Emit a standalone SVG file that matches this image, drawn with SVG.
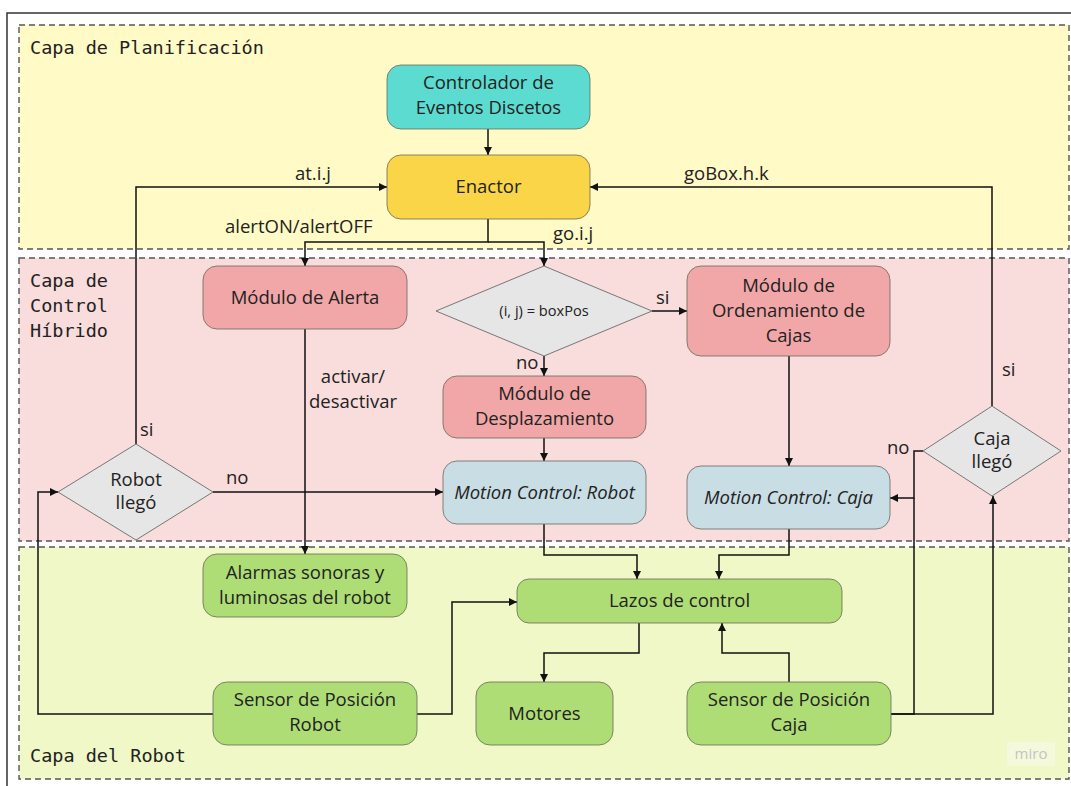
<svg xmlns="http://www.w3.org/2000/svg" width="1071" height="786" viewBox="0 0 1071 786">
  <defs>
    <marker id="arrow" viewBox="0 0 10 10" refX="10" refY="5" markerWidth="8" markerHeight="8" markerUnits="userSpaceOnUse" orient="auto">
      <path d="M0,0 L10,5 L0,10 z" fill="#111"/>
    </marker>
    <style>
      .layer { stroke: #555; stroke-width: 1.4; stroke-dasharray: 6 4; }
      .layer-label { font-family: "DejaVu Sans Mono", "Liberation Mono", monospace; font-size: 18.5px; fill: #222; }
      .node { stroke: #6a6a5a; stroke-opacity: 0.8; stroke-width: 1; }
      .teal { fill: #5cdbd0; }
      .gold { fill: #fad548; }
      .rose { fill: #f1a7a7; }
      .sky { fill: #c9dde5; }
      .lime { fill: #aedd75; }
      .decision { fill: #e6e6e6; stroke: #777; stroke-width: 1; }
      .t { font-family: "Open Sans", "Noto Sans", sans-serif; font-size: 18.5px; fill: #222; text-anchor: middle; }
      .it { font-style: italic; }
      .small { font-size: 14.6px; }
      .lbl { font-family: "Open Sans", "Noto Sans", sans-serif; font-size: 18.5px; fill: #222; }
      .wire { fill: none; stroke: #111; stroke-width: 1.5; }
    </style>
  </defs>

  <rect width="1071" height="786" fill="#ffffff"/>

  <!-- outer frame -->
  <path d="M7,786 V13 H1071" fill="none" stroke="#333" stroke-width="1.5"/>

  <!-- layers -->
  <g id="layer-planning">
    <rect class="layer" x="19" y="25" width="1050" height="224" fill="#fffac6"/>
    <text class="layer-label" x="30" y="54">Capa de Planificación</text>
  </g>
  <g id="layer-hybrid">
    <rect class="layer" x="19" y="258" width="1050" height="283" fill="#f9dcdc"/>
    <text class="layer-label" x="30" y="287">Capa de</text>
    <text class="layer-label" x="30" y="312">Control</text>
    <text class="layer-label" x="30" y="337">Híbrido</text>
  </g>
  <g id="layer-robot">
    <rect class="layer" x="19" y="547" width="1050" height="232" fill="#eff8c6"/>
    <text class="layer-label" x="30" y="762">Capa del Robot</text>
  </g>

  <!-- connectors -->
  <g id="connectors">
    <path class="wire" d="M488,129 V155" marker-end="url(#arrow)"/>
    <path class="wire" d="M488,219 V242 H305 V266" marker-end="url(#arrow)"/>
    <path class="wire" d="M488,242 H544 V266" marker-end="url(#arrow)"/>
    <path class="wire" d="M652,311 H687" marker-end="url(#arrow)"/>
    <path class="wire" d="M544,356 V376" marker-end="url(#arrow)"/>
    <path class="wire" d="M544,438 V461" marker-end="url(#arrow)"/>
    <path class="wire" d="M789,356 V466" marker-end="url(#arrow)"/>
    <path class="wire" d="M305,329 V554" marker-end="url(#arrow)"/>
    <path class="wire" d="M136,444 V187 H387" marker-end="url(#arrow)"/>
    <path class="wire" d="M213,492 H443" marker-end="url(#arrow)"/>
    <path class="wire" d="M213,714 H38 V492 H58" marker-end="url(#arrow)"/>
    <path class="wire" d="M417,714 H452 V602 H517" marker-end="url(#arrow)"/>
    <path class="wire" d="M544,524 V555 H637 V579" marker-end="url(#arrow)"/>
    <path class="wire" d="M789,529 V555 H719 V579" marker-end="url(#arrow)"/>
    <path class="wire" d="M639,623 V653 H544 V682" marker-end="url(#arrow)"/>
    <path class="wire" d="M789,682 V653 H722 V623" marker-end="url(#arrow)"/>
    <path class="wire" d="M891,714 H993 V496" marker-end="url(#arrow)"/>
    <path class="wire" d="M891,714 H914 V498"/>
    <path class="wire" d="M923,451 H914 V498 H890" marker-end="url(#arrow)"/>
    <path class="wire" d="M992,406 V187 H590" marker-end="url(#arrow)"/>

    <text class="lbl" x="295" y="180">at.i.j</text>
    <text class="lbl" x="684" y="180">goBox.h.k</text>
    <text class="lbl" x="225" y="233">alertON/alertOFF</text>
    <text class="lbl" x="553" y="240">go.i.j</text>
    <text class="lbl" x="656" y="304">si</text>
    <text class="lbl" x="516" y="369">no</text>
    <text class="lbl" x="353" y="383" text-anchor="middle">activar/</text>
    <text class="lbl" x="353" y="408" text-anchor="middle">desactivar</text>
    <text class="lbl" x="140" y="436">si</text>
    <text class="lbl" x="226" y="484">no</text>
    <text class="lbl" x="887" y="454">no</text>
    <text class="lbl" x="1002" y="376">si</text>
  </g>

  <!-- planning layer nodes -->
  <g id="controlador">
    <rect class="node teal" x="387" y="65" width="203" height="64" rx="14"/>
    <text class="t" x="488.5" y="89">Controlador de</text>
    <text class="t" x="488.5" y="114">Eventos Discetos</text>
  </g>
  <g id="enactor">
    <rect class="node gold" x="387" y="155" width="203" height="64" rx="14"/>
    <text class="t" x="488.5" y="193">Enactor</text>
  </g>

  <!-- hybrid control layer nodes -->
  <g id="modulo-alerta">
    <rect class="node rose" x="203" y="266" width="204" height="63" rx="14"/>
    <text class="t" x="305" y="303.5">Módulo de Alerta</text>
  </g>
  <g id="decision-boxpos">
    <polygon class="decision" points="544,266 652,311 544,356 436,311"/>
    <text class="t small" x="544" y="316">(i, j) = boxPos</text>
  </g>
  <g id="modulo-ordenamiento">
    <rect class="node rose" x="687" y="266" width="203" height="90" rx="14"/>
    <text class="t" x="788.5" y="292">Módulo de</text>
    <text class="t" x="788.5" y="317">Ordenamiento de</text>
    <text class="t" x="788.5" y="342">Cajas</text>
  </g>
  <g id="modulo-desplazamiento">
    <rect class="node rose" x="443" y="376" width="203" height="62" rx="14"/>
    <text class="t" x="544.5" y="399.5">Módulo de</text>
    <text class="t" x="544.5" y="424.5">Desplazamiento</text>
  </g>
  <g id="motion-robot">
    <rect class="node sky" x="443" y="461" width="203" height="63" rx="14"/>
    <text class="t it" x="544.5" y="498.5">Motion Control: Robot</text>
  </g>
  <g id="motion-caja">
    <rect class="node sky" x="687" y="466" width="203" height="63" rx="14"/>
    <text class="t it" x="788.5" y="503.5">Motion Control: Caja</text>
  </g>
  <g id="robot-llego">
    <polygon class="decision" points="136,444 213,492 136,540 58,492"/>
    <text class="t" x="136" y="486">Robot</text>
    <text class="t" x="136" y="509">llegó</text>
  </g>
  <g id="caja-llego">
    <polygon class="decision" points="992,406 1061,451 992,496 923,451"/>
    <text class="t" x="992" y="445">Caja</text>
    <text class="t" x="992" y="468">llegó</text>
  </g>

  <!-- robot layer nodes -->
  <g id="alarmas">
    <rect class="node lime" x="203" y="554" width="204" height="63" rx="14"/>
    <text class="t" x="305" y="579">Alarmas sonoras y</text>
    <text class="t" x="305" y="604">luminosas del robot</text>
  </g>
  <g id="lazos">
    <rect class="node lime" x="517" y="579" width="325" height="44" rx="12"/>
    <text class="t" x="679.5" y="607">Lazos de control</text>
  </g>
  <g id="sensor-robot">
    <rect class="node lime" x="213" y="682" width="204" height="63" rx="14"/>
    <text class="t" x="315" y="706">Sensor de Posición</text>
    <text class="t" x="315" y="731">Robot</text>
  </g>
  <g id="motores">
    <rect class="node lime" x="476" y="682" width="137" height="63" rx="14"/>
    <text class="t" x="544.5" y="719.5">Motores</text>
  </g>
  <g id="sensor-caja">
    <rect class="node lime" x="687" y="682" width="204" height="63" rx="14"/>
    <text class="t" x="789" y="706">Sensor de Posición</text>
    <text class="t" x="789" y="731">Caja</text>
  </g>

  <!-- watermark -->
  <g id="watermark">
    <rect x="1007" y="742" width="48" height="24" fill="#f4f9dc"/>
    <text x="1031" y="759" font-family="Open Sans, Noto Sans, sans-serif" font-size="15" fill="#c4c4c4" text-anchor="middle">miro</text>
  </g>
</svg>
